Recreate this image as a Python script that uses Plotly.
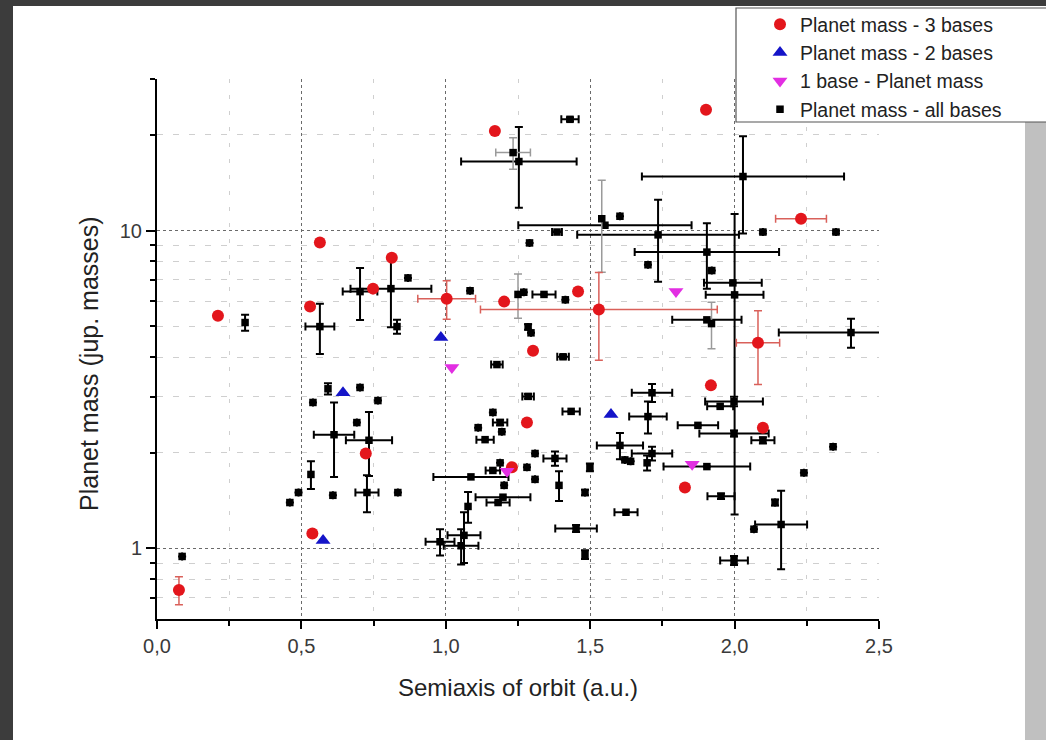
import math
import plotly.graph_objects as go

W, H = 1046, 740
ML, MR, MT, MB = 157, 167, 79, 121

# ---- Planet mass - 3 bases ----
red_x = [0.076, 0.211, 0.564, 0.530, 0.748, 0.813, 0.723, 0.538, 1.003, 1.202, 1.170,
         1.530, 1.458, 1.302, 1.281, 1.229, 1.901, 2.230, 2.081, 1.918, 2.098, 1.828]
red_y = [0.74, 5.40, 9.17, 5.77, 6.57, 8.22, 1.99, 1.115, 6.11, 5.98, 20.6,
         5.65, 6.43, 4.19, 2.49, 1.80, 24.0, 10.9, 4.44, 3.26, 2.40, 1.556]
red_ex = [0, 0, 0, 0, 0, 0, 0, 0, 0.10, 0, 0,
          0.41, 0, 0, 0, 0, 0, 0.088, 0.075, 0, 0, 0]
red_ey = [0.075, 0, 0, 0, 0, 0, 0, 0, 0.85, 0, 0,
          1.74, 0, 0, 0, 0, 0, 0, 1.16, 0, 0, 0]

# ---- Planet mass - 2 bases ----
blue_x = [0.983, 0.644, 0.575, 1.572]
blue_y = [4.61, 3.09, 1.06, 2.64]

# ---- 1 base - Planet mass ----
mag_x = [1.021, 1.797, 1.853, 1.212]
mag_y = [3.71, 6.43, 1.84, 1.75]

# ---- Planet mass - all bases (black error bars) ----
all_x = [0.087, 0.305, 0.46, 0.49, 0.533, 0.564, 0.54, 0.592, 0.613, 0.609,
         0.703, 0.692, 0.734, 0.765, 0.727, 0.834, 0.703, 0.810, 0.831, 0.869,
         0.98, 1.063, 1.053, 1.077, 1.112, 1.136, 1.163, 1.188, 1.194, 1.285,
         1.281, 1.309, 1.309, 1.378, 1.392, 1.163, 1.188, 1.087, 1.202, 1.198,
         1.181, 1.482, 1.499, 1.406, 1.177, 1.285, 1.295, 1.084, 1.27, 1.34,
         1.414, 1.70, 1.904, 1.921, 1.994, 2.00, 1.904, 2.029, 2.098, 2.351,
         1.430, 1.253, 1.603, 1.551, 1.735, 1.385, 1.29, 2.403, 2.341, 2.240,
         2.098, 1.998, 1.95, 1.998, 1.873, 2.067, 2.161, 2.140, 1.998, 1.482,
         1.451, 1.624, 1.953, 1.714, 1.70, 1.603, 1.62, 1.64, 1.714, 1.697,
         1.904, 1.434]
all_y = [0.944, 5.14, 1.395, 1.50, 1.71, 4.99, 2.88, 3.18, 2.28, 1.47,
         3.21, 2.49, 2.19, 2.92, 1.50, 1.50, 6.43, 6.57, 4.99, 7.10,
         1.05, 1.10, 1.02, 1.356, 2.40, 2.20, 2.68, 2.49, 2.33, 3.01,
         1.80, 1.99, 1.65, 1.92, 1.58, 1.76, 1.86, 1.68, 1.58, 1.45,
         1.395, 1.50, 1.80, 4.01, 3.79, 4.98, 4.77, 6.47, 6.40, 6.30,
         6.06, 7.81, 8.56, 7.49, 6.85, 6.28, 5.24, 14.8, 9.9, 9.9,
         22.4, 16.5, 11.1, 10.4, 9.7, 9.9, 9.15, 4.78, 2.09, 1.73,
         2.19, 2.90, 2.80, 2.30, 2.44, 1.15, 1.19, 1.395, 0.917, 0.957,
         1.156, 1.30, 1.46, 3.09, 2.60, 2.11, 1.90, 1.88, 1.99, 1.86,
         1.81, 2.70]
all_ex = [0, 0, 0, 0, 0, 0.05, 0, 0, 0.07, 0,
          0, 0, 0.08, 0, 0.04, 0, 0.06, 0.14, 0, 0,
          0.05, 0.057, 0.06, 0, 0, 0.03, 0, 0.025, 0, 0.02,
          0, 0, 0, 0.04, 0, 0.025, 0, 0.13, 0, 0.095,
          0.04, 0, 0, 0.02, 0.02, 0, 0, 0, 0, 0.04,
          0, 0, 0.25, 0, 0.10, 0.10, 0.12, 0.35, 0, 0,
          0.03, 0.20, 0, 0.30, 0.28, 0.017, 0, 0.25, 0, 0,
          0.04, 0.10, 0.045, 0.12, 0.07, 0, 0.09, 0, 0.048, 0,
          0.072, 0.04, 0.047, 0.07, 0.065, 0.08, 0, 0, 0.07, 0,
          0.15, 0.03]
all_ey = [0, 0.30, 0, 0, 0.17, 0.9, 0, 0.13, 0.6, 0,
          0, 0, 0.5, 0, 0.2, 0, 1.2, 1.6, 0.25, 0,
          0.10, 0.20, 0.13, 0.15, 0, 0, 0, 0.05, 0, 0.05,
          0, 0, 0, 0.10, 0.17, 0, 0, 0, 0, 0,
          0, 0.03, 0.05, 0.05, 0, 0.10, 0, 0, 0, 0,
          0, 0, 2.0, 0, 0, 5.0, 0, 5.0, 0.10, 0.10,
          0.30, 4.7, 0, 0, 2.8, 0, 0, 0.5, 0, 0,
          0.05, 0.10, 0, 0.05, 0, 0, 0.33, 0.03, 0.03, 0.03,
          0.03, 0, 0.03, 0.20, 0.30, 0.20, 0, 0, 0.10, 0.10,
          0, 0]

# ---- Planet mass - all bases (grey error bars) ----
allg_x = [1.25, 1.92, 1.233, 1.54]
allg_y = [6.30, 5.10, 17.6, 10.9]
allg_ex = [0, 0, 0.06, 0]
allg_ey = [1.0, 0.85, 2.0, 3.5]

# ---- axis ticks ----
x_ticks = [0, 0.5, 1.0, 1.5, 2.0, 2.5]
x_minor = [0.25, 0.75, 1.25, 1.75, 2.25]
y_ticks = [1, 10]
y_tick_text = ["1", "10"]
y_minor = [0.7, 0.8, 0.9, 2, 3, 4, 5, 6, 7, 8, 9, 20, 30]

RED, BLUE, MAG = "#e3161c", "#1414c8", "#e22ee2"
FONT = "Liberation Sans, Arial, sans-serif"

fig = go.Figure()

err_black = dict(type="data", thickness=2, width=4, color="black")
err_grey = dict(type="data", thickness=1.5, width=4, color="#9a9a9a")
err_red = dict(type="data", thickness=1.5, width=4, color="#d9605a")

fig.add_trace(go.Scatter(
    x=all_x, y=all_y, mode="markers", name="Planet mass - all bases",
    legendrank=4,
    marker=dict(symbol="square", size=7.5, color="black"),
    error_x=dict(array=all_ex, **err_black),
    error_y=dict(array=all_ey, **err_black)))
fig.add_trace(go.Scatter(
    x=allg_x, y=allg_y, mode="markers", name="Planet mass - all bases",
    showlegend=False,
    marker=dict(symbol="square", size=7.5, color="black"),
    error_x=dict(array=allg_ex, **err_grey),
    error_y=dict(array=allg_ey, **err_grey)))
fig.add_trace(go.Scatter(
    x=red_x, y=red_y, mode="markers", name="Planet mass - 3 bases", legendrank=1,
    marker=dict(symbol="circle", size=12, color=RED),
    error_x=dict(array=red_ex, **err_red),
    error_y=dict(array=red_ey, **err_red)))
fig.add_trace(go.Scatter(
    x=blue_x, y=blue_y, mode="markers", name="Planet mass - 2 bases", legendrank=2,
    marker=dict(symbol="triangle-up", size=13, color=BLUE)))
fig.add_trace(go.Scatter(
    x=mag_x, y=mag_y, mode="markers", name="1 base - Planet mass", legendrank=3,
    marker=dict(symbol="triangle-down", size=13, color=MAG)))


def px_x(p):
    return (p - ML) / (W - ML - MR)


def px_y(p):
    return 1 - (p - MT) / (H - MT - MB)


shapes = [
    # frame strips around the page
    dict(type="rect", xref="paper", yref="paper", layer="below",
         x0=px_x(-2), x1=px_x(13), y0=px_y(-2), y1=px_y(742),
         fillcolor="#3c3c3c", line_width=0),
    dict(type="rect", xref="paper", yref="paper", layer="below",
         x0=px_x(-2), x1=px_x(1048), y0=px_y(-2), y1=px_y(6),
         fillcolor="#3c3c3c", line_width=0),
    dict(type="rect", xref="paper", yref="paper", layer="below",
         x0=px_x(1025), x1=px_x(1048), y0=px_y(110), y1=px_y(742),
         fillcolor="#c0c0c0", line_width=0),
    # legend box
    dict(type="rect", xref="paper", yref="paper", layer="above",
         x0=px_x(736), x1=px_x(1060), y0=px_y(8), y1=px_y(122),
         fillcolor="white", line=dict(color="#555555", width=1.2)),
]

annotations = [
    dict(text="Semiaxis of orbit (a.u.)", xref="paper", yref="paper",
         x=px_x(518), y=px_y(687), xanchor="center", yanchor="middle",
         showarrow=False, font=dict(family=FONT, size=24, color="#222")),
    dict(text="Planet mass (jup. masses)", xref="paper", yref="paper",
         x=px_x(89), y=px_y(364), xanchor="center", yanchor="middle",
         textangle=-90, showarrow=False,
         font=dict(family=FONT, size=25, color="#222")),
]

fig.update_layout(
    width=W, height=H,
    margin=dict(l=ML, r=MR, t=MT, b=MB, pad=0, autoexpand=False),
    paper_bgcolor="white", plot_bgcolor="white",
    separators=",.",
    font=dict(family=FONT, color="#333"),
    shapes=shapes, annotations=annotations,
    showlegend=True,
    legend=dict(x=px_x(760), y=px_y(5), xanchor="left", yanchor="top",
                bgcolor="rgba(0,0,0,0)", borderwidth=0,
                traceorder="normal", tracegroupgap=0,
                font=dict(family=FONT, size=19.5, color="#222"),
                itemclick=False),
    xaxis=dict(
        range=[0, 2.5], tickmode="array", tickvals=x_ticks, tickformat=".1f",
        ticks="outside", ticklen=8, tickwidth=2, tickcolor="black",
        showline=True, linecolor="black", linewidth=2, zeroline=False,
        showgrid=True, gridcolor="#6a6a6a", gridwidth=1.2, griddash="dot",
        tickfont=dict(family=FONT, size=20, color="#3a3a3a"),
        minor=dict(tickmode="array", tickvals=x_minor,
                   ticks="outside", ticklen=5, tickwidth=2, tickcolor="black",
                   showgrid=True, gridcolor="#cfcfcf", gridwidth=1,
                   griddash="4px,12px"),
    ),
    yaxis=dict(
        type="log", range=[math.log10(0.6), math.log10(30)],
        tickmode="array", tickvals=y_ticks, ticktext=y_tick_text,
        ticks="outside", ticklen=9, tickwidth=2, tickcolor="black",
        showline=True, linecolor="black", linewidth=2, zeroline=False,
        showgrid=True, gridcolor="#6a6a6a", gridwidth=1.2, griddash="dot",
        tickfont=dict(family=FONT, size=20, color="#3a3a3a"),
        minor=dict(tickmode="array", tickvals=y_minor,
                   ticks="outside", ticklen=5, tickwidth=2, tickcolor="black",
                   showgrid=True, gridcolor="#cfcfcf", gridwidth=1,
                   griddash="6px,10px"),
    ),
)

fig.write_html("out.html")
